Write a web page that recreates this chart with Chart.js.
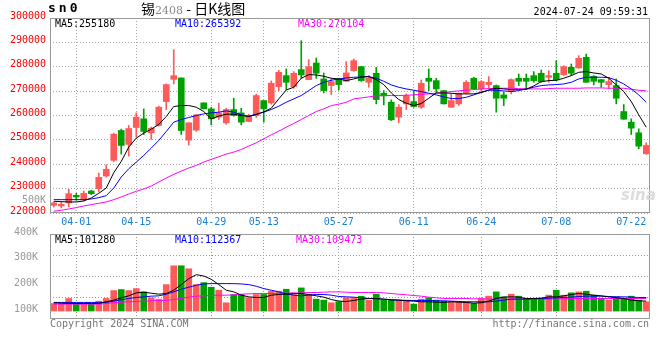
<!DOCTYPE html>
<html>
<head>
<meta charset="utf-8">
<script src="https://cdn.jsdelivr.net/npm/chart.js@4.4.1/dist/chart.umd.min.js"></script>
<style>
  body { margin: 0; background: #fff; }
  #wrap { position: relative; width: 660px; height: 360px; overflow: hidden; font-family: 'DejaVu Sans Mono', monospace; font-size: 10px; }
  #wrap canvas { position: absolute; left: 0; }
  .txt { position: absolute; white-space: nowrap; line-height: 12px; }
</style>
</head>
<body>
<div id="wrap">
  <canvas id="kChart" width="660" height="232" style="top:0"></canvas>
  <canvas id="volChart" width="660" height="138" style="top:222px"></canvas>

  <div class="txt" style="left:48px;top:1px;font-weight:bold;font-size:13px;letter-spacing:3px;line-height:14px">sn0</div>
  <div class="txt" style="left:141px;top:0px;font-family:'Noto Sans CJK SC';font-size:14px;line-height:16px">锡<span style="color:#888;font-family:'DejaVu Serif';font-size:11px">2408</span> - 日K线图</div>
  <div class="txt" style="right:12px;top:6px">2024-07-24 09:59:31</div>

  <div class="txt" style="left:55px;top:18px;color:#000">MA5:255180</div>
  <div class="txt" style="left:175px;top:18px;color:#0000ff">MA10:265392</div>
  <div class="txt" style="left:298px;top:18px;color:#ff00ff">MA30:270104</div>

  <div class="txt" style="right:614px;top:194px;color:#999">500K</div>
  <div class="txt" style="left:621px;top:186px;color:#dcdcdc;font-family:'DejaVu Sans';font-style:italic;font-weight:bold;font-size:15px;line-height:18px">sina</div>

  <div class="txt" style="left:55px;top:234px;color:#000">MA5:101280</div>
  <div class="txt" style="left:175px;top:234px;color:#0000ff">MA10:112367</div>
  <div class="txt" style="left:296px;top:234px;color:#ff00ff">MA30:109473</div>

  <div class="txt" style="left:50px;top:318px;color:#777">Copyright 2024 SINA.COM</div>
  <div class="txt" style="right:11px;top:318px;color:#777">http://finance.sina.com.cn</div>
</div>
<script>
const dates = ['03-27','03-28','03-29',
  '04-01','04-02','04-03','04-08','04-09','04-10','04-11','04-12',
  '04-15','04-16','04-17','04-18','04-19','04-22','04-23','04-24','04-25','04-26',
  '04-29','04-30',
  '05-06','05-07','05-08','05-09','05-10',
  '05-13','05-14','05-15','05-16','05-17','05-20','05-21','05-22','05-23','05-24',
  '05-27','05-28','05-29','05-30','05-31',
  '06-03','06-04','06-05','06-06','06-07',
  '06-11','06-12','06-13','06-14',
  '06-17','06-18','06-19','06-20','06-21',
  '06-24','06-25','06-26','06-27','06-28',
  '07-01','07-02','07-03','07-04','07-05',
  '07-08','07-09','07-10','07-11','07-12',
  '07-15','07-16','07-17','07-18','07-19',
  '07-22','07-23','07-24'];

const tickDates = ['04-01','04-15','04-29','05-13','05-27','06-11','06-24','07-08','07-22'];
const gridDates = ['04-01','04-15','04-29','05-13','05-27','06-11','06-24','07-08'];

const open = [223160,222890,224120,227260,225620,229030,229980,235170,241580,253850,
  248130,255080,258630,252900,255900,265720,274860,275410,249900,253990,
  265180,262720,259310,256990,262450,261080,257540,259990,266130,265180,
  271860,276360,271860,278820,274720,281540,275000,272270,275000,274040,
  278410,280040,273630,277320,269130,265450,259310,264770,265720,263400,
  275270,274310,270220,263400,264770,269270,275270,270900,272680,272270,
  268450,269810,275270,275270,276360,277320,275680,277320,276770,279770,
  279500,283860,276090,274720,272680,272270,261630,257260,252900,244310];

const high = [224530,224530,229700,228080,229030,229300,236390,239800,252760,254400,
  255900,261080,262720,255220,263810,272950,287000,275410,257000,260300,
  265200,263400,265040,263000,267080,262990,260540,268720,266200,274180,
  278540,279090,278000,290700,282900,283590,277450,275270,275270,282090,
  283180,280100,276360,279770,270220,266400,264500,268860,269950,274590,
  279090,275270,270300,268860,269200,274310,275680,274310,275950,272540,
  269540,275000,277040,277040,278000,278680,278410,282500,280450,281130,
  284540,285230,276360,274800,275680,275000,264500,258630,254540,248810];

const low = [222480,222070,222480,225210,224940,227530,228620,234760,241170,244170,
  243350,251120,252220,250170,255630,262450,272950,252220,247850,253500,
  262700,256170,258360,256400,259700,256170,257400,259170,257260,264630,
  270220,270630,271180,275270,274700,275270,269270,268580,270500,274000,
  278130,274000,271590,264770,264360,257950,256990,262450,263400,262990,
  270220,269540,264700,263300,264080,268860,270630,269540,271180,261360,
  264080,268860,272270,270900,273630,273630,273630,274310,276360,276360,
  279400,273600,272540,271590,270900,264770,258400,252220,246350,244030];

const close = [224120,223570,227940,226570,228080,227940,234620,237900,252350,247710,
  254670,259310,253450,254810,263400,272680,276360,253850,256990,260270,
  262720,258630,261080,262450,259990,257260,259720,268180,262720,273230,
  277730,273630,277320,276630,280040,277320,270220,273900,272680,277450,
  282500,274310,275270,266540,268040,258220,263400,268180,263670,273230,
  274040,270900,264770,266130,269130,273630,270900,273900,273630,267080,
  267080,274720,274040,274040,274310,273900,276360,274590,280040,277320,
  283450,273630,274040,273630,273900,267080,258490,254810,247440,247710];

const ma5 = [224800,224660,224530,224530,224940,226160,228070,230260,236530,241170,
  247030,250720,252760,254400,256310,259580,263680,264080,264080,263400,
  261630,258630,259720,260540,260540,259990,259580,260400,261490,262990,
  266810,270490,271590,275270,276770,276630,276090,275270,275000,274310,
  275000,275810,275950,274720,272680,269270,266540,265040,264080,264900,
  267090,269270,269270,269130,268860,268860,268860,269400,270490,271180,
  270900,270630,270630,270770,272130,273900,274310,274450,275270,276360,
  277720,278000,277450,277040,275270,272540,269810,265720,260270,255180];

const ma10 = [225480,225480,225480,225480,225480,225760,226300,227120,230260,234760,
  238170,240900,243620,246630,249760,253450,257260,258360,259170,259990,
  260670,261080,261360,261900,261360,260270,259720,260540,261360,262450,
  263810,265450,266810,268180,270220,272270,273630,274450,275000,275400,
  275680,275810,275950,275270,274040,272540,271590,270900,270360,269810,
  269130,268450,267630,266950,266950,267490,268450,269540,270360,270360,
  270090,269810,270220,270900,271590,272270,272540,272680,272950,273630,
  275000,275680,275680,275680,275540,274450,272950,270900,268450,265392];

const ma30 = [220710,221120,221660,222210,222890,223440,223980,224530,225480,226570,
  227800,228890,229850,231080,232710,234350,235850,237210,238440,239530,
  240900,241990,243080,244170,244990,246080,247440,248810,250440,252080,
  253580,255220,256720,258360,259990,261630,262720,264080,264630,265450,
  266810,267220,267630,268040,268180,268180,268180,268310,268450,268720,
  268860,269130,269400,269810,270090,270360,270630,270900,271040,271180,
  271180,271180,271040,270900,270900,270900,271040,271180,271180,271180,
  271180,271310,271310,271310,271180,271180,271180,270770,270360,270104];

const volume = [129600,129600,148900,129600,128300,127000,138600,148900,179800,183700,
  179800,187500,174600,151500,146300,203000,276300,276300,264700,203000,
  210700,192700,181100,132200,164400,164400,151500,164400,164400,177200,
  177200,184900,164400,190100,164400,146300,142500,132200,136000,151500,
  151500,157900,142500,165600,142500,142500,142500,142500,127000,146300,
  151500,142500,138600,136000,136000,136000,129600,148900,157900,174600,
  155300,165600,157900,148900,148900,148900,161800,181100,161800,170800,
  174600,177200,161800,148900,142500,155300,148900,157900,142500,136000];

const volMa5 = [132200,130900,129600,129600,129600,129600,129600,136000,142500,151500,
  159200,170800,173400,169500,165600,168200,181100,203000,226100,241600,
  236400,223600,203000,181100,174600,161800,155300,152800,152800,161800,
  164400,165600,168200,168200,164400,159200,154100,145000,138600,137300,
  141200,146300,148900,148900,146300,143800,142500,139900,138600,136000,
  136000,134700,133500,136000,134700,133500,130900,132200,138600,148900,
  154100,155300,154100,148900,148900,150200,155300,155300,159200,164400,
  168200,165600,161800,159200,155300,151500,148900,142500,139900,138600];

const volMa10 = [133500,133500,133500,133500,133500,133500,133500,133500,138600,143800,
  148900,152800,155300,157900,159200,165600,174600,184900,192700,200400,
  205500,206800,206800,206800,206800,205500,203000,196500,187500,181100,
  174600,166900,161800,159200,161800,164400,164400,161800,156600,155300,
  154100,151500,148900,147600,146300,143800,142500,141200,141200,141200,
  141200,139900,139900,138600,137300,136000,136000,136000,136000,138600,
  142500,146300,146300,146300,147600,148900,150200,151500,152800,154100,
  156600,157900,157900,157900,156600,155300,155300,154100,152800,152800];

const volMa30 = [127000,127000,127000,127000,127000,127000,127000,129600,132200,134700,
  136000,137300,138600,139900,141200,141200,145000,148900,154100,157900,
  159200,160500,161800,161800,163100,165600,166900,168200,168200,168200,
  168200,169500,170800,170800,172100,172100,173400,174600,174600,173400,
  172100,172100,172100,172100,170800,168200,165600,163100,160500,157900,
  154100,151500,148900,148900,148900,148900,147600,147600,146300,146300,
  146300,146300,146300,146300,146300,146300,146300,147600,147600,148900,
  148900,148900,148900,148900,148900,148900,148900,148900,148900,148900];

const priceTicks = [220000, 230000, 240000, 250000, 260000, 270000, 280000, 290000, 300000];
const volTicks = [100000, 200000, 300000, 400000];

const UP = '#ff5a5a';
const DOWN = '#00a000';
const GRID = '#aaaaaa';
const VGRID = '#999999';
const FRAME = '#999999';
const MONO = "'DejaVu Sans Mono', monospace";

Chart.defaults.font.family = MONO;
Chart.defaults.font.size = 10;

const candleColors = close.map((c, i) => c >= open[i] ? UP : DOWN);
const showGrid = ctx => gridDates.includes(dates[ctx.index]) ? GRID : 'rgba(0,0,0,0)';

const framePlugin = {
  id: 'frame',
  afterDraw(chart) {
    const { ctx, chartArea: a } = chart;
    ctx.save();
    ctx.strokeStyle = FRAME;
    ctx.lineWidth = 1;
    ctx.setLineDash([]);
    ctx.strokeRect(a.left + 0.5, a.top + 0.5, a.right - a.left - 1, a.bottom - a.top - 1);
    ctx.restore();
  }
};

// the volume pane: dotted lines at the date ticks and at quarter heights
const volGridPlugin = {
  id: 'volGrid',
  beforeDatasetsDraw(chart) {
    const { ctx, chartArea: a, scales } = chart;
    ctx.save();
    ctx.strokeStyle = VGRID;
    ctx.lineWidth = 1;
    ctx.setLineDash([1, 2]);
    gridDates.forEach(d => {
      const x = Math.round(scales.x.getPixelForValue(dates.indexOf(d)) - 0.5) + 0.5;
      ctx.beginPath();
      ctx.moveTo(x, a.top);
      ctx.lineTo(x, a.bottom);
      ctx.stroke();
    });
    for (let k = 1; k < 4; k++) {
      const y = Math.round(a.top + (a.bottom - a.top) * k / 4 - 0.5) + 0.5;
      ctx.beginPath();
      ctx.moveTo(a.left, y);
      ctx.lineTo(a.right, y);
      ctx.stroke();
    }
    ctx.restore();
  }
};

function maLine(data, color) {
  return { type: 'line', data: data, borderColor: color, borderWidth: 1, pointRadius: 0, tension: 0, order: 0 };
}

new Chart(document.getElementById('kChart'), {
  type: 'bar',
  data: {
    labels: dates,
    datasets: [
      { data: dates.map((d, i) => [low[i], high[i]]), backgroundColor: candleColors,
        barThickness: 1, grouped: false, order: 2 },
      { data: dates.map((d, i) => [open[i], close[i]]), backgroundColor: candleColors,
        barThickness: 6, minBarLength: 1, grouped: false, order: 1 },
      maLine(ma5, '#000000'),
      maLine(ma10, '#0000ff'),
      maLine(ma30, '#ff00ff')
    ]
  },
  options: {
    responsive: false,
    animation: false,
    events: [],
    layout: { padding: { top: 18, right: 10, bottom: 0, left: 0 } },
    plugins: { legend: { display: false }, tooltip: { enabled: false } },
    scales: {
      x: {
        offset: true,
        grid: { offset: false, color: showGrid, drawTicks: false },
        border: { display: false, dash: [1, 2] },
        ticks: {
          autoSkip: false, maxRotation: 0, minRotation: 0, padding: 3, color: '#1a7fd4',
          callback: (v, i) => tickDates.includes(dates[i]) ? dates[i] : ''
        },
        afterFit: s => { s.height = 19; }
      },
      y: {
        min: 220000, max: 300000,
        afterBuildTicks: s => { s.ticks = priceTicks.map(v => ({ value: v })); },
        grid: { color: GRID, drawTicks: false },
        border: { display: false, dash: [1, 2] },
        ticks: { color: '#ff0000', padding: 4, labelOffset: -2, callback: v => String(v) },
        afterFit: s => { s.width = 50; }
      }
    }
  },
  plugins: [framePlugin]
});

new Chart(document.getElementById('volChart'), {
  type: 'bar',
  data: {
    labels: dates,
    datasets: [
      { data: volume, base: 100000, backgroundColor: candleColors, barThickness: 6, order: 1 },
      maLine(volMa5, '#000000'),
      maLine(volMa10, '#0000ff'),
      maLine(volMa30, '#ff00ff')
    ]
  },
  options: {
    responsive: false,
    animation: false,
    events: [],
    layout: { padding: { top: 12, right: 10, bottom: 41, left: 0 } },
    plugins: { legend: { display: false }, tooltip: { enabled: false } },
    scales: {
      x: {
        offset: true,
        grid: { display: false },
        border: { display: false },
        ticks: { display: false },
        afterFit: s => { s.height = 0; }
      },
      y: {
        min: 69000, max: 400000,
        afterBuildTicks: s => { s.ticks = volTicks.map(v => ({ value: v })); },
        grid: { display: false },
        border: { display: false },
        ticks: { color: '#999', padding: 4, labelOffset: -2, callback: v => (v / 1000) + 'K' },
        afterFit: s => { s.width = 50; }
      }
    }
  },
  plugins: [volGridPlugin, framePlugin]
});
</script>
</body>
</html>
